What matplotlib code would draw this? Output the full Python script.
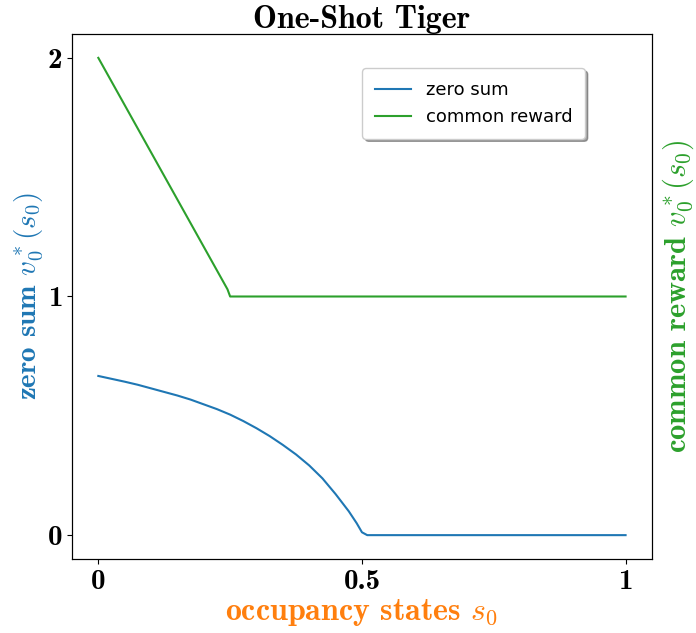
"""One-Shot Tiger: optimal value at the initial occupancy state."""

import matplotlib

matplotlib.use("Agg")
import matplotlib.pyplot as plt

plt.rcParams["mathtext.fontset"] = "cm"
plt.rcParams["axes.unicode_minus"] = False

# occupancy state s0 (belief the tiger is on the left)
s0_zero = [0.0, 0.025, 0.05, 0.075, 0.1, 0.125, 0.15, 0.175, 0.2, 0.225,
           0.25, 0.275, 0.3, 0.325, 0.35, 0.375, 0.4, 0.425, 0.45, 0.475,
           0.49, 0.5, 0.51, 1.0]
v_zero = [0.667, 0.655, 0.643, 0.630, 0.615, 0.600, 0.585, 0.568, 0.548, 0.528,
          0.505, 0.478, 0.448, 0.415, 0.378, 0.338, 0.292, 0.238, 0.172, 0.100,
          0.050, 0.012, 0.0, 0.0]

s0_common = [0.0, 0.245, 0.25, 1.0]
v_common = [2.0, 1.03, 1.0, 1.0]

xticks = [0, 0.5, 1]
xtick_labels = ["0", "0.5", "1"]
yticks = [0, 1, 2]
ytick_labels = ["0", "1", "2"]

BOLD = "cmb10"

fig = plt.figure(figsize=(6.96, 6.33), dpi=100)
ax = fig.add_axes([0.1034, 0.1169, 0.8333, 0.8294])
ax2 = ax.twinx()

ax.plot(s0_zero, v_zero, color="tab:blue", label="zero sum")
ax.plot(s0_common, v_common, color="tab:green", label="common reward")

ax.set_xticks(xticks)
ax.set_xticklabels(xtick_labels, fontfamily=BOLD, fontsize=21)
ax.set_yticks(yticks)
ax.set_yticklabels(ytick_labels, fontfamily=BOLD, fontsize=21)
ax.set_ylim(ax.get_ylim())
ax2.set_ylim(ax.get_ylim())
ax2.set_yticks([])

ax.set_title("One-Shot Tiger", fontfamily=BOLD, fontsize=23, pad=3)
ax.set_xlabel(r"occupancy states $s_0$", fontfamily=BOLD, fontsize=23,
              color="tab:orange", labelpad=2)
ax.set_ylabel(r"zero sum $v_0^*(s_0)$", fontfamily=BOLD, fontsize=21,
              color="tab:blue", labelpad=2)
ax2.set_ylabel(r"common reward $v_0^*(s_0)$", fontfamily=BOLD, fontsize=22,
               color="tab:green", labelpad=6)

ax.legend(loc="upper right", bbox_to_anchor=(0.90, 0.952), shadow=True,
          prop={"family": "DejaVu Sans", "size": 13}, borderpad=0.7)

fig.savefig("out.png", dpi=100)
